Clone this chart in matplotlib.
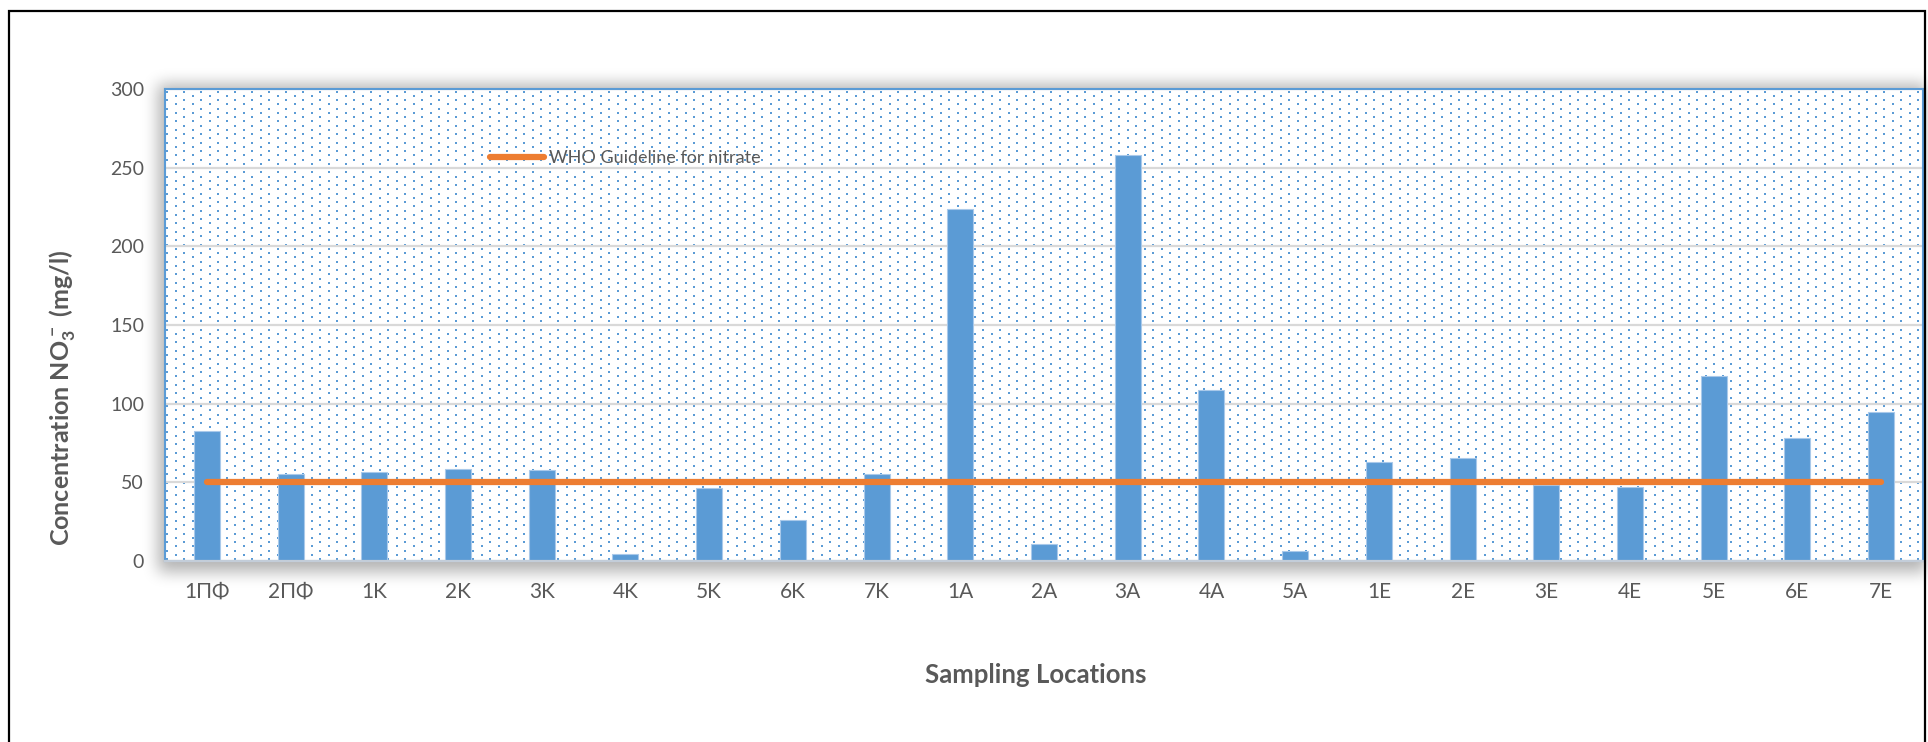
import numpy as np
import matplotlib
matplotlib.use("Agg")
import matplotlib.pyplot as plt
from matplotlib.patches import Rectangle

locations = ["1ΠΦ", "2ΠΦ", "1K", "2K", "3K", "4K", "5K", "6K", "7K",
             "1A", "2A", "3A", "4A", "5A",
             "1E", "2E", "3E", "4E", "5E", "6E", "7E"]
nitrate = [82.4, 55.5, 56.8, 58.3, 57.6, 4.5, 46.4, 25.8, 55.5,
           224.0, 10.6, 258.0, 108.9, 6.6,
           62.9, 65.5, 48.5, 47.0, 117.4, 78.4, 94.7]
who_limit = 50
y_ticks = [0, 50, 100, 150, 200, 250, 300]

W, H = 1928, 742
BLUE = "#5B9BD5"
ORANGE = "#ED7D31"
GREY_TXT = "#595959"

plt.rcParams["font.family"] = ["Lato", "Open Sans", "DejaVu Sans"]
plt.rcParams["mathtext.default"] = "regular"


def fx(px):
    return px / W


def fy(py):
    return 1 - py / H


def soft_shadow(x0, y0, x1, y1, radius=7, passes=3, strength=0.3):
    """Blurred grey mask around a pixel rectangle, returned as RGBA."""
    mask = np.zeros((H, W))
    mask[y0:y1, x0:x1] = 1.0
    k = np.ones(2 * radius + 1) / (2 * radius + 1)
    for _ in range(passes):
        mask = np.apply_along_axis(lambda v: np.convolve(v, k, mode="same"), 1, mask)
        mask = np.apply_along_axis(lambda v: np.convolve(v, k, mode="same"), 0, mask)
    rgba = np.zeros((H, W, 4))
    rgba[..., 3] = mask * strength
    return rgba


fig = plt.figure(figsize=(W / 100, H / 100), dpi=100)

# plot-area shadow on a full-figure background axes
bg = fig.add_axes([0, 0, 1, 1], zorder=-5)
bg.imshow(soft_shadow(158, 84, 1930, 572), extent=(0, 1, 0, 1),
          aspect="auto", interpolation="bilinear")
bg.set_xlim(0, 1)
bg.set_ylim(0, 1)
bg.axis("off")

# chart frame
fig.patches.append(Rectangle((fx(9), -0.02), fx(1916), fy(11) + 0.02,
                             transform=fig.transFigure, fill=False,
                             edgecolor="black", linewidth=1.6))

left, right, top, bottom = 165, 1923, 89, 561
ax = fig.add_axes([fx(left), fy(bottom), fx(right - left), (bottom - top) / H])
ax.set_facecolor("white")

# dotted fill of the plot area
aw, ah = right - left, bottom - top
pts = []
for j, yy in enumerate(np.arange(2, ah, 4.25)):
    off = 2 if j % 2 == 0 else 10.5
    xs = np.arange(off, aw, 17)
    pts.append(np.column_stack([xs / aw, np.full_like(xs, yy) / ah]))
pts = np.vstack(pts)
ax.scatter(pts[:, 0], pts[:, 1], s=2.3, marker="s", color=BLUE,
           linewidths=0, transform=ax.transAxes, zorder=0.2)

x = np.arange(len(locations))
ax.bar(x, nitrate, width=0.31, color=BLUE, edgecolor="#A9C9EA",
       linewidth=0.8, zorder=2)
ax.plot(x, [who_limit] * len(x), color=ORANGE, lw=4.5,
        solid_capstyle="round", zorder=3, label="WHO Guideline for nitrate")

ax.set_xlim(-0.5, len(x) - 0.5)
ax.set_ylim(0, 300)
ax.set_yticks(y_ticks)
ax.set_xticks(x)
ax.set_xticklabels(locations)
ax.tick_params(axis="both", length=0, labelcolor=GREY_TXT)
ax.tick_params(axis="x", pad=15, labelsize=15)
ax.tick_params(axis="y", pad=15, labelsize=14)
ax.yaxis.grid(True, color="#D9D9D9", linewidth=1.6)
ax.set_axisbelow(True)
for side in ("left", "top", "right"):
    ax.spines[side].set_color(BLUE)
    ax.spines[side].set_linewidth(1.5)
ax.spines["bottom"].set_color("#C3CDD9")
ax.spines["bottom"].set_linewidth(1.6)

leg = ax.legend(loc="center left", bbox_to_anchor=(fx(490), fy(158)),
                bbox_transform=fig.transFigure, frameon=False,
                fontsize=13, handlelength=3.0, handletextpad=0.25,
                borderpad=0, borderaxespad=0)
for t in leg.get_texts():
    t.set_color(GREY_TXT)

fig.text(fx(63), fy(398), "Concentration NO$_3^-$ (mg/l)", rotation=90,
         ha="center", va="center", fontsize=18, fontweight="bold",
         color=GREY_TXT)
fig.text(fx(1036), fy(675), "Sampling Locations", ha="center", va="center",
         fontsize=18.5, fontweight="bold", color=GREY_TXT)

fig.savefig("out.png", dpi=100)
